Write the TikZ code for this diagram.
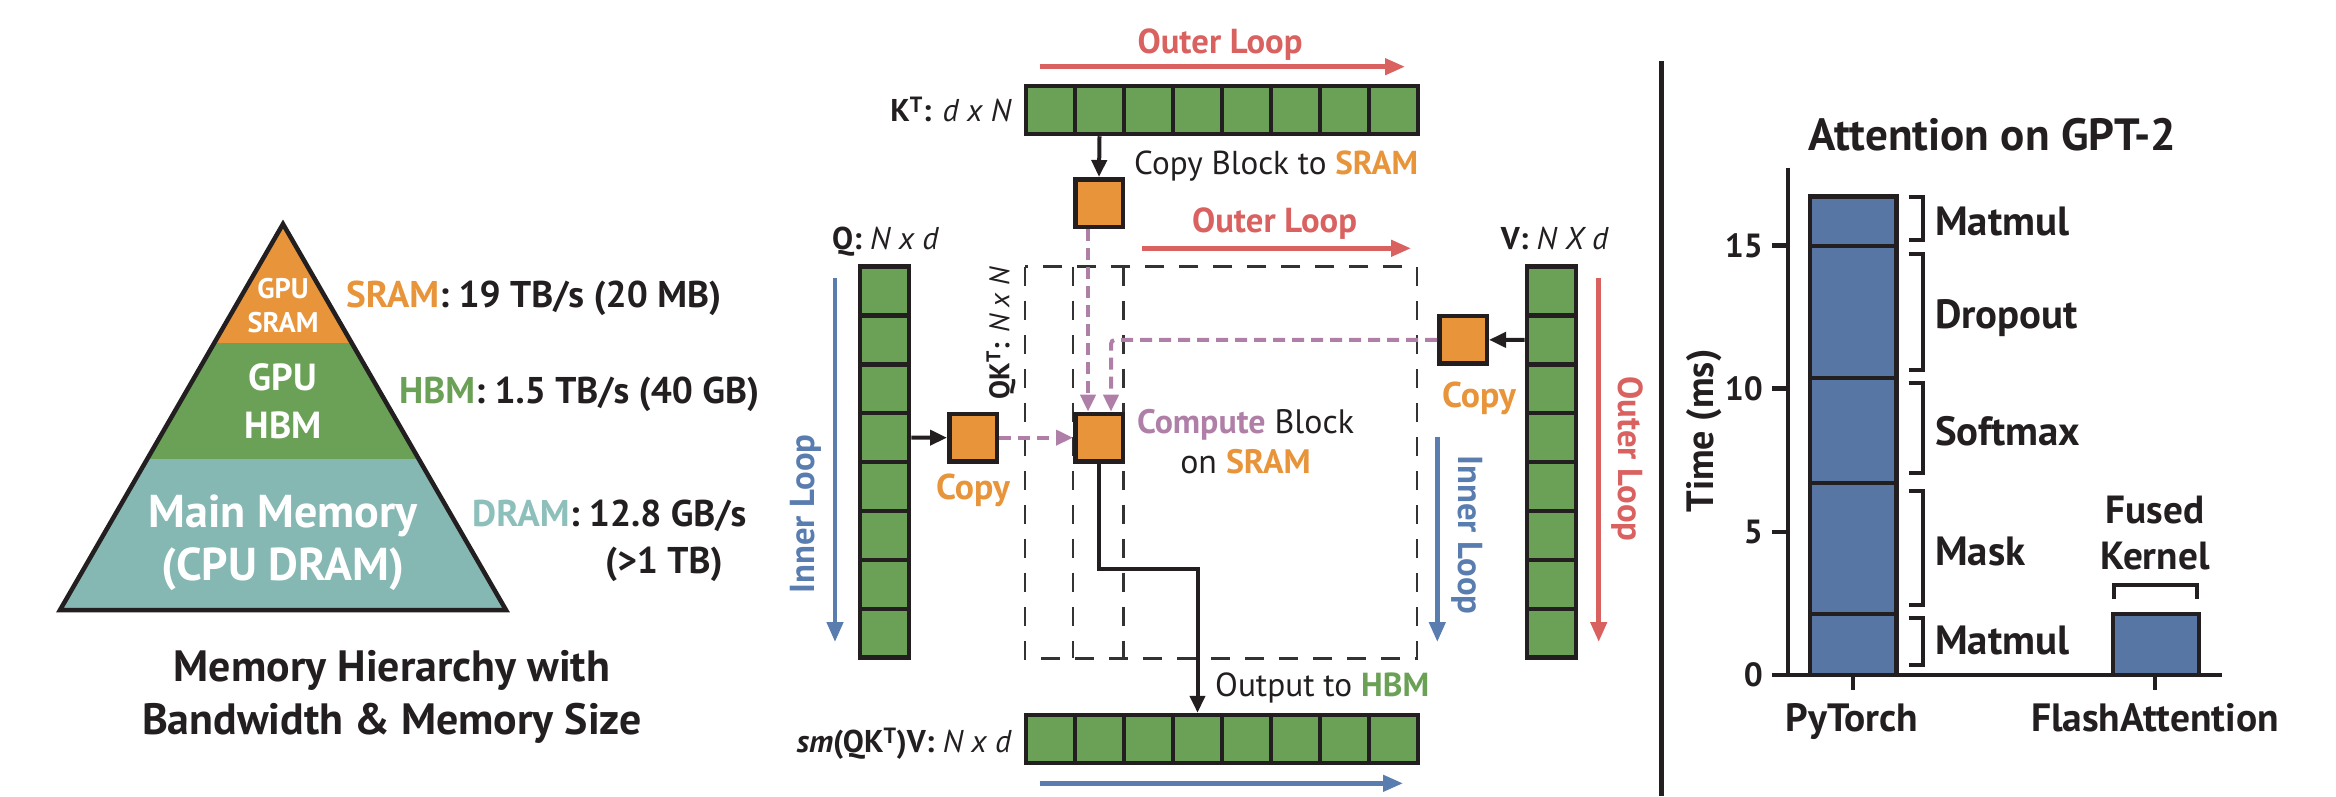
\documentclass[tikz,border=0pt]{standalone}
\usepackage{fontspec}
\setmainfont{PT Sans}
\usetikzlibrary{arrows.meta}
\definecolor{cOr}{HTML}{E8943A}
\definecolor{cGr}{HTML}{6AA156}
\definecolor{cTe}{HTML}{85B7B3}
\definecolor{cTeT}{HTML}{8DBFBB}
\definecolor{cRe}{HTML}{D9615F}
\definecolor{cBl}{HTML}{5A7DB0}
\definecolor{cBar}{HTML}{5776A3}
\definecolor{cPu}{HTML}{B07FA8}
\definecolor{cTx}{HTML}{231F20}
\definecolor{cDk}{HTML}{333333}
\newcommand\myfs[1]{\fontsize{#1pt}{#1pt}\selectfont}
\newlength\fitlen
\newcommand\mkfs[4]{\settowidth\fitlen{\normalfont\fontsize{10pt}{10pt}\selectfont#3#4}\pgfmathsetmacro#1{10*#2/\fitlen}\global\let#1#1}
\AtBeginDocument{%
\mkfs\szPyS{71}{\bfseries}{SRAM}%
\mkfs\szPyB{77}{\bfseries}{HBM}%
\mkfs\szPyM{269}{\bfseries}{Main Memory}%
\mkfs\szLab{375}{\bfseries}{SRAM: 19 TB/s (20 MB)}%
\mkfs\szTit{500}{\bfseries}{Bandwidth \& Memory Size}%
\mkfs\szLoop{165}{\bfseries}{Outer Loop}%
\mkfs\szCopyB{284}{}{Copy Block to {\bfseries SRAM}}%
\mkfs\szComp{217}{}{{\bfseries Compute} Block}%
\mkfs\szOut{214}{}{Output to {\bfseries HBM}}%
\mkfs\szCopy{74}{\bfseries}{Copy}%
\mkfs\szMat{107}{}{{\bfseries Q:} \textit{N x d}}%
\mkfs\szQK{133}{}{{\bfseries QK\textsuperscript{T}:} \textit{N x N}}%
\mkfs\szCT{368}{\bfseries}{Attention on GPT-2}%
\mkfs\szCL{134}{\bfseries}{Matmul}%
\mkfs\szCX{248}{\bfseries}{FlashAttention}%
\mkfs\szTick{38}{\bfseries}{15}%
\mkfs\szTime{163}{\bfseries}{Time (ms)}%
\mkfs\szFK{109}{\bfseries}{Kernel}%
}
\tikzset{
  cellh/.style={draw=cTx, fill=cGr, line width=4.5pt, minimum width=49pt, minimum height=48pt, inner sep=0pt},
  cellv/.style={draw=cTx, fill=cGr, line width=4.5pt, minimum width=49pt, minimum height=48.9pt, inner sep=0pt},
  blk/.style={draw=cTx, fill=cOr, line width=4.5pt, minimum size=47.5pt, inner sep=0pt},
  blkarr/.style={draw=cTx, line width=4pt, -{Triangle[length=17pt,width=15pt]}},
  purarr/.style={draw=cPu, line width=4pt, dash pattern=on 12pt off 7pt, -{Triangle[length=17pt,width=15pt]}},
  looparr/.style={line width=4.5pt, -{Triangle[length=20pt,width=16pt]}},
  qkbox/.style={draw=cDk, line width=2.5pt, dash pattern=on 19pt off 15pt},
  txt/.style={inner sep=0pt, text=cTx},
  brk/.style={draw=cTx, line width=4pt},
}
\begin{document}
\begin{tikzpicture}[x=1pt,y=-1pt]
\useasboundingbox (0,0) rectangle (2336,796);
% ---------------- pyramid
\coordinate (apex) at (283,224);
\coordinate (bl) at (60,610);
\coordinate (br) at (506,610);
\begin{scope}
\clip (apex)--(bl)--(br)--cycle;
\fill[cOr] (0,150) rectangle (600,342.6);
\fill[cGr] (0,342.6) rectangle (600,459.4);
\fill[cTe] (0,459.4) rectangle (600,700);
\end{scope}
\draw[cTx, line width=4.5pt] (apex)--(bl)--(br)--cycle;
\node[txt, text=white, font=\myfs{\szPyS}\bfseries, anchor=base] (t1) at (283,{289+0.35*\szPyS}) {GPU};
\node[txt, text=white, font=\myfs{\szPyS}\bfseries, anchor=base] (t2) at (283,{322.4+0.35*\szPyS}) {SRAM};
\node[txt, text=white, font=\myfs{\szPyB}\bfseries, anchor=base] (t3) at (283,{377+0.35*\szPyB}) {GPU};
\node[txt, text=white, font=\myfs{\szPyB}\bfseries, anchor=base] (t4) at (283,{425+0.35*\szPyB}) {HBM};
\node[txt, text=white, font=\myfs{\szPyM}\bfseries, anchor=base] (t5) at (283,{511+0.35*\szPyM}) {Main Memory};
\node[txt, text=white, font=\myfs{\szPyM}\bfseries, anchor=base] (t6) at (283,{564.6+0.35*\szPyM}) {(CPU DRAM)};
\node[txt, font=\myfs{\szLab}\bfseries, anchor=base west] (l1) at (346,{294.8+0.35*\szLab}) {\textcolor{cOr}{SRAM}: 19 TB/s (20 MB)};
\node[txt, font=\myfs{\szLab}\bfseries, anchor=base west] (l2) at (399,{390.5+0.35*\szLab}) {\textcolor{cGr}{HBM}: 1.5 TB/s (40 GB)};
\node[txt, font=\myfs{\szLab}\bfseries, anchor=base west] (l3) at (472,{513+0.35*\szLab}) {\textcolor{cTeT}{DRAM}: 12.8 GB/s};
\node[txt, font=\myfs{\szLab}\bfseries, anchor=base west] (l4) at (605,{560.8+0.35*\szLab}) {(>1 TB)};
\node[txt, font=\myfs{\szTit}\bfseries, anchor=base] (h1) at (392,{666+0.35*\szTit}) {Memory Hierarchy with};
\node[txt, font=\myfs{\szTit}\bfseries, anchor=base] (h2) at (392,{719.6+0.35*\szTit}) {Bandwidth \& Memory Size};
% ---------------- middle
\draw[qkbox] (1024.8,266.7) rectangle (1417,658.3);
\draw[qkbox] (1073,266.7) -- (1073,658.3);
\draw[qkbox] (1123.7,266.7) -- (1123.7,658.3);
\foreach \i in {1,...,8} {
  \node[cellh] (k\i) at ({1026+49*(\i-0.5)},110) {};
  \node[cellh] (o\i) at ({1026+49*(\i-0.5)},739) {};
  \node[cellv] (q\i) at (884.6,{266.5+48.9*(\i-0.5)}) {};
  \node[cellv] (v\i) at (1551.3,{266.5+48.9*(\i-0.5)}) {};
}
\node[blk] (topblk) at (1099,203) {};
\node[blk] (qcopy) at (973,437.65) {};
\node[blk] (comp) at (1099,437.65) {};
\node[blk] (vcopy) at (1463,339.85) {};
\draw[blkarr] (k2.south) -- (topblk.north);
\draw[blkarr] (q4.east) -- (qcopy.west);
\draw[blkarr] (v2.west) -- (vcopy.east);
\draw[purarr] (qcopy.east) -- (comp.west);
\draw[purarr] ([xshift=-11pt]topblk.south) -- ([xshift=-11pt]comp.north);
\draw[purarr, rounded corners=4pt] (vcopy.west) -| ([xshift=12pt]comp.north);
\coordinate (turn) at (1197.5,569.3);
\draw[blkarr] (comp.south) |- (turn) -- (o4.north);
% loop arrows
\coordinate (a1s) at (1039.5,66.7); \coordinate (a1e) at (1405,66.7);
\coordinate (a2s) at (1142,248.3); \coordinate (a2e) at (1411,248.3);
\coordinate (a3s) at (835,278); \coordinate (a3e) at (835,642);
\coordinate (a4s) at (1437.3,436.7); \coordinate (a4e) at (1437.3,642);
\coordinate (a5s) at (1598.7,278.3); \coordinate (a5e) at (1598.7,642);
\coordinate (a6s) at (1039.5,783.3); \coordinate (a6e) at (1403,783.3);
\draw[looparr, draw=cRe, fill=cRe] (a1s) -- (a1e);
\draw[looparr, draw=cRe, fill=cRe] (a2s) -- (a2e);
\draw[looparr, draw=cBl, fill=cBl] (a3s) -- (a3e);
\draw[looparr, draw=cBl, fill=cBl] (a4s) -- (a4e);
\draw[looparr, draw=cRe, fill=cRe] (a5s) -- (a5e);
\draw[looparr, draw=cBl, fill=cBl] (a6s) -- (a6e);
% middle texts
\node[txt, text=cRe, font=\myfs{\szLoop}\bfseries, anchor=base] (m1) at (1220,{41.7+0.35*\szLoop}) {Outer Loop};
\node[txt, text=cRe, font=\myfs{\szLoop}\bfseries, anchor=base] (m2) at (1274.5,{220+0.35*\szLoop}) {Outer Loop};
\node[txt, font=\myfs{\szMat}, anchor=base east] (m3) at (1012,{110+0.35*\szMat}) {{\bfseries K\textsuperscript{T}:} \textit{d x N}};
\node[txt, font=\myfs{\szCopyB}, anchor=base west] (m4) at (1134,{163.3+0.35*\szCopyB}) {Copy Block to \textcolor{cOr}{\bfseries SRAM}};
\node[txt, font=\myfs{\szMat}, anchor=base west] (m5) at (832,{238.3+0.35*\szMat}) {{\bfseries Q:} \textit{N x d}};
\node[txt, font=\myfs{\szMat}, anchor=base west] (m6) at (1500.6,{238.3+0.35*\szMat}) {{\bfseries V:} \textit{N X d}};
\node[txt, font=\myfs{\szQK}, rotate=90] (m7) at (1001,333) {{\bfseries QK\textsuperscript{T}:} \textit{N x N}};
\node[txt, text=cOr, font=\myfs{\szCopy}\bfseries] (m8) at (973,490) {Copy};
\node[txt, text=cOr, font=\myfs{\szCopy}\bfseries] (m9) at (1479,398) {Copy};
\node[txt, font=\myfs{\szComp}, anchor=base] (m10) at (1245.5,{421.7+0.35*\szComp}) {\textcolor{cPu}{\bfseries Compute} Block};
\node[txt, font=\myfs{\szComp}, anchor=base] (m11) at (1245.5,{461.7+0.35*\szComp}) {on \textcolor{cOr}{\bfseries SRAM}};
\node[txt, font=\myfs{\szOut}, anchor=base west] (m12) at (1215,{685+0.35*\szOut}) {Output to \textcolor{cGr}{\bfseries HBM}};
\node[txt, font=\myfs{\szMat}, anchor=base east] (m13) at (1012,{741.7+0.35*\szMat}) {{\bfseries\itshape sm}{\bfseries(QK\textsuperscript{T})V:} \textit{N x d}};
\node[txt, text=cBl, font=\myfs{\szLoop}\bfseries, rotate=90] (m14) at (806,514) {Inner Loop};
\node[txt, text=cBl, font=\myfs{\szLoop}\bfseries, rotate=-90] (m15) at (1467,535) {Inner Loop};
\node[txt, text=cRe, font=\myfs{\szLoop}\bfseries, rotate=-90] (m16) at (1627,459) {Outer Loop};
% ---------------- chart
\draw[cTx, line width=4.5pt] (1661.5,61) -- (1661.5,796);
\node[txt, font=\myfs{\szCT}\bfseries, anchor=base] (c0) at (1992,{134.5+0.35*\szCT}) {Attention on GPT-2};
\draw[cTx, line width=4.5pt] (1787.8,167.5) -- (1787.8,675) -- (2222,675);
\foreach \v/\yy in {0/675,5/532,10/388.5,15/245.5} {
  \draw[cTx, line width=4.5pt] (1772,\yy) -- (1788,\yy);
  \node[txt, font=\myfs{\szTick}\bfseries, anchor=base east] at (1763,{\yy+0.35*\szTick}) {\v};
}
\node[txt, font=\myfs{\szTime}\bfseries, rotate=90] (c1) at (1704,431) {Time (ms)};
\filldraw[fill=cBar, draw=cTx, line width=4.5pt] (1810,196.6) rectangle (1896.5,675);
\foreach \yy in {246.2,378.2,483.2,614.2} {
  \draw[cTx, line width=4.5pt] (1810,\yy) -- (1896.5,\yy);
}
\filldraw[fill=cBar, draw=cTx, line width=4.5pt] (2112.8,613.9) rectangle (2199.2,675);
\foreach \ya/\yb in {197/239.6,253.8/369.5,383/473,491/605,618/665} {
  \draw[brk] (1908.5,\ya) -- (1923,\ya) -- (1923,\yb) -- (1908.5,\yb);
}
\draw[brk] (2114,599) -- (2114,585) -- (2197,585) -- (2197,599);
\node[txt, font=\myfs{\szCL}\bfseries, anchor=base west] (c2) at (1935,{220.8+0.35*\szCL}) {Matmul};
\node[txt, font=\myfs{\szCL}\bfseries, anchor=base west] (c3) at (1935,{314.7+0.35*\szCL}) {Dropout};
\node[txt, font=\myfs{\szCL}\bfseries, anchor=base west] (c4) at (1935,{431.5+0.35*\szCL}) {Softmax};
\node[txt, font=\myfs{\szCL}\bfseries, anchor=base west] (c5) at (1935,{550.8+0.35*\szCL}) {Mask};
\node[txt, font=\myfs{\szCL}\bfseries, anchor=base west] (c6) at (1935,{640.6+0.35*\szCL}) {Matmul};
\node[txt, font=\myfs{\szFK}\bfseries, anchor=base] (c7) at (2155,{510+0.35*\szFK}) {Fused};
\node[txt, font=\myfs{\szFK}\bfseries, anchor=base] (c8) at (2155,{555.8+0.35*\szFK}) {Kernel};
\draw[cTx, line width=4.5pt] (1853,675) -- (1853,690);
\draw[cTx, line width=4.5pt] (2155,675) -- (2155,690);
\node[txt, font=\myfs{\szCX}\bfseries, anchor=base] (c9) at (1852,{718+0.35*\szCX}) {PyTorch};
\node[txt, font=\myfs{\szCX}\bfseries, anchor=base] (c10) at (2155,{718+0.35*\szCX}) {FlashAttention};
\end{tikzpicture}
\end{document}
